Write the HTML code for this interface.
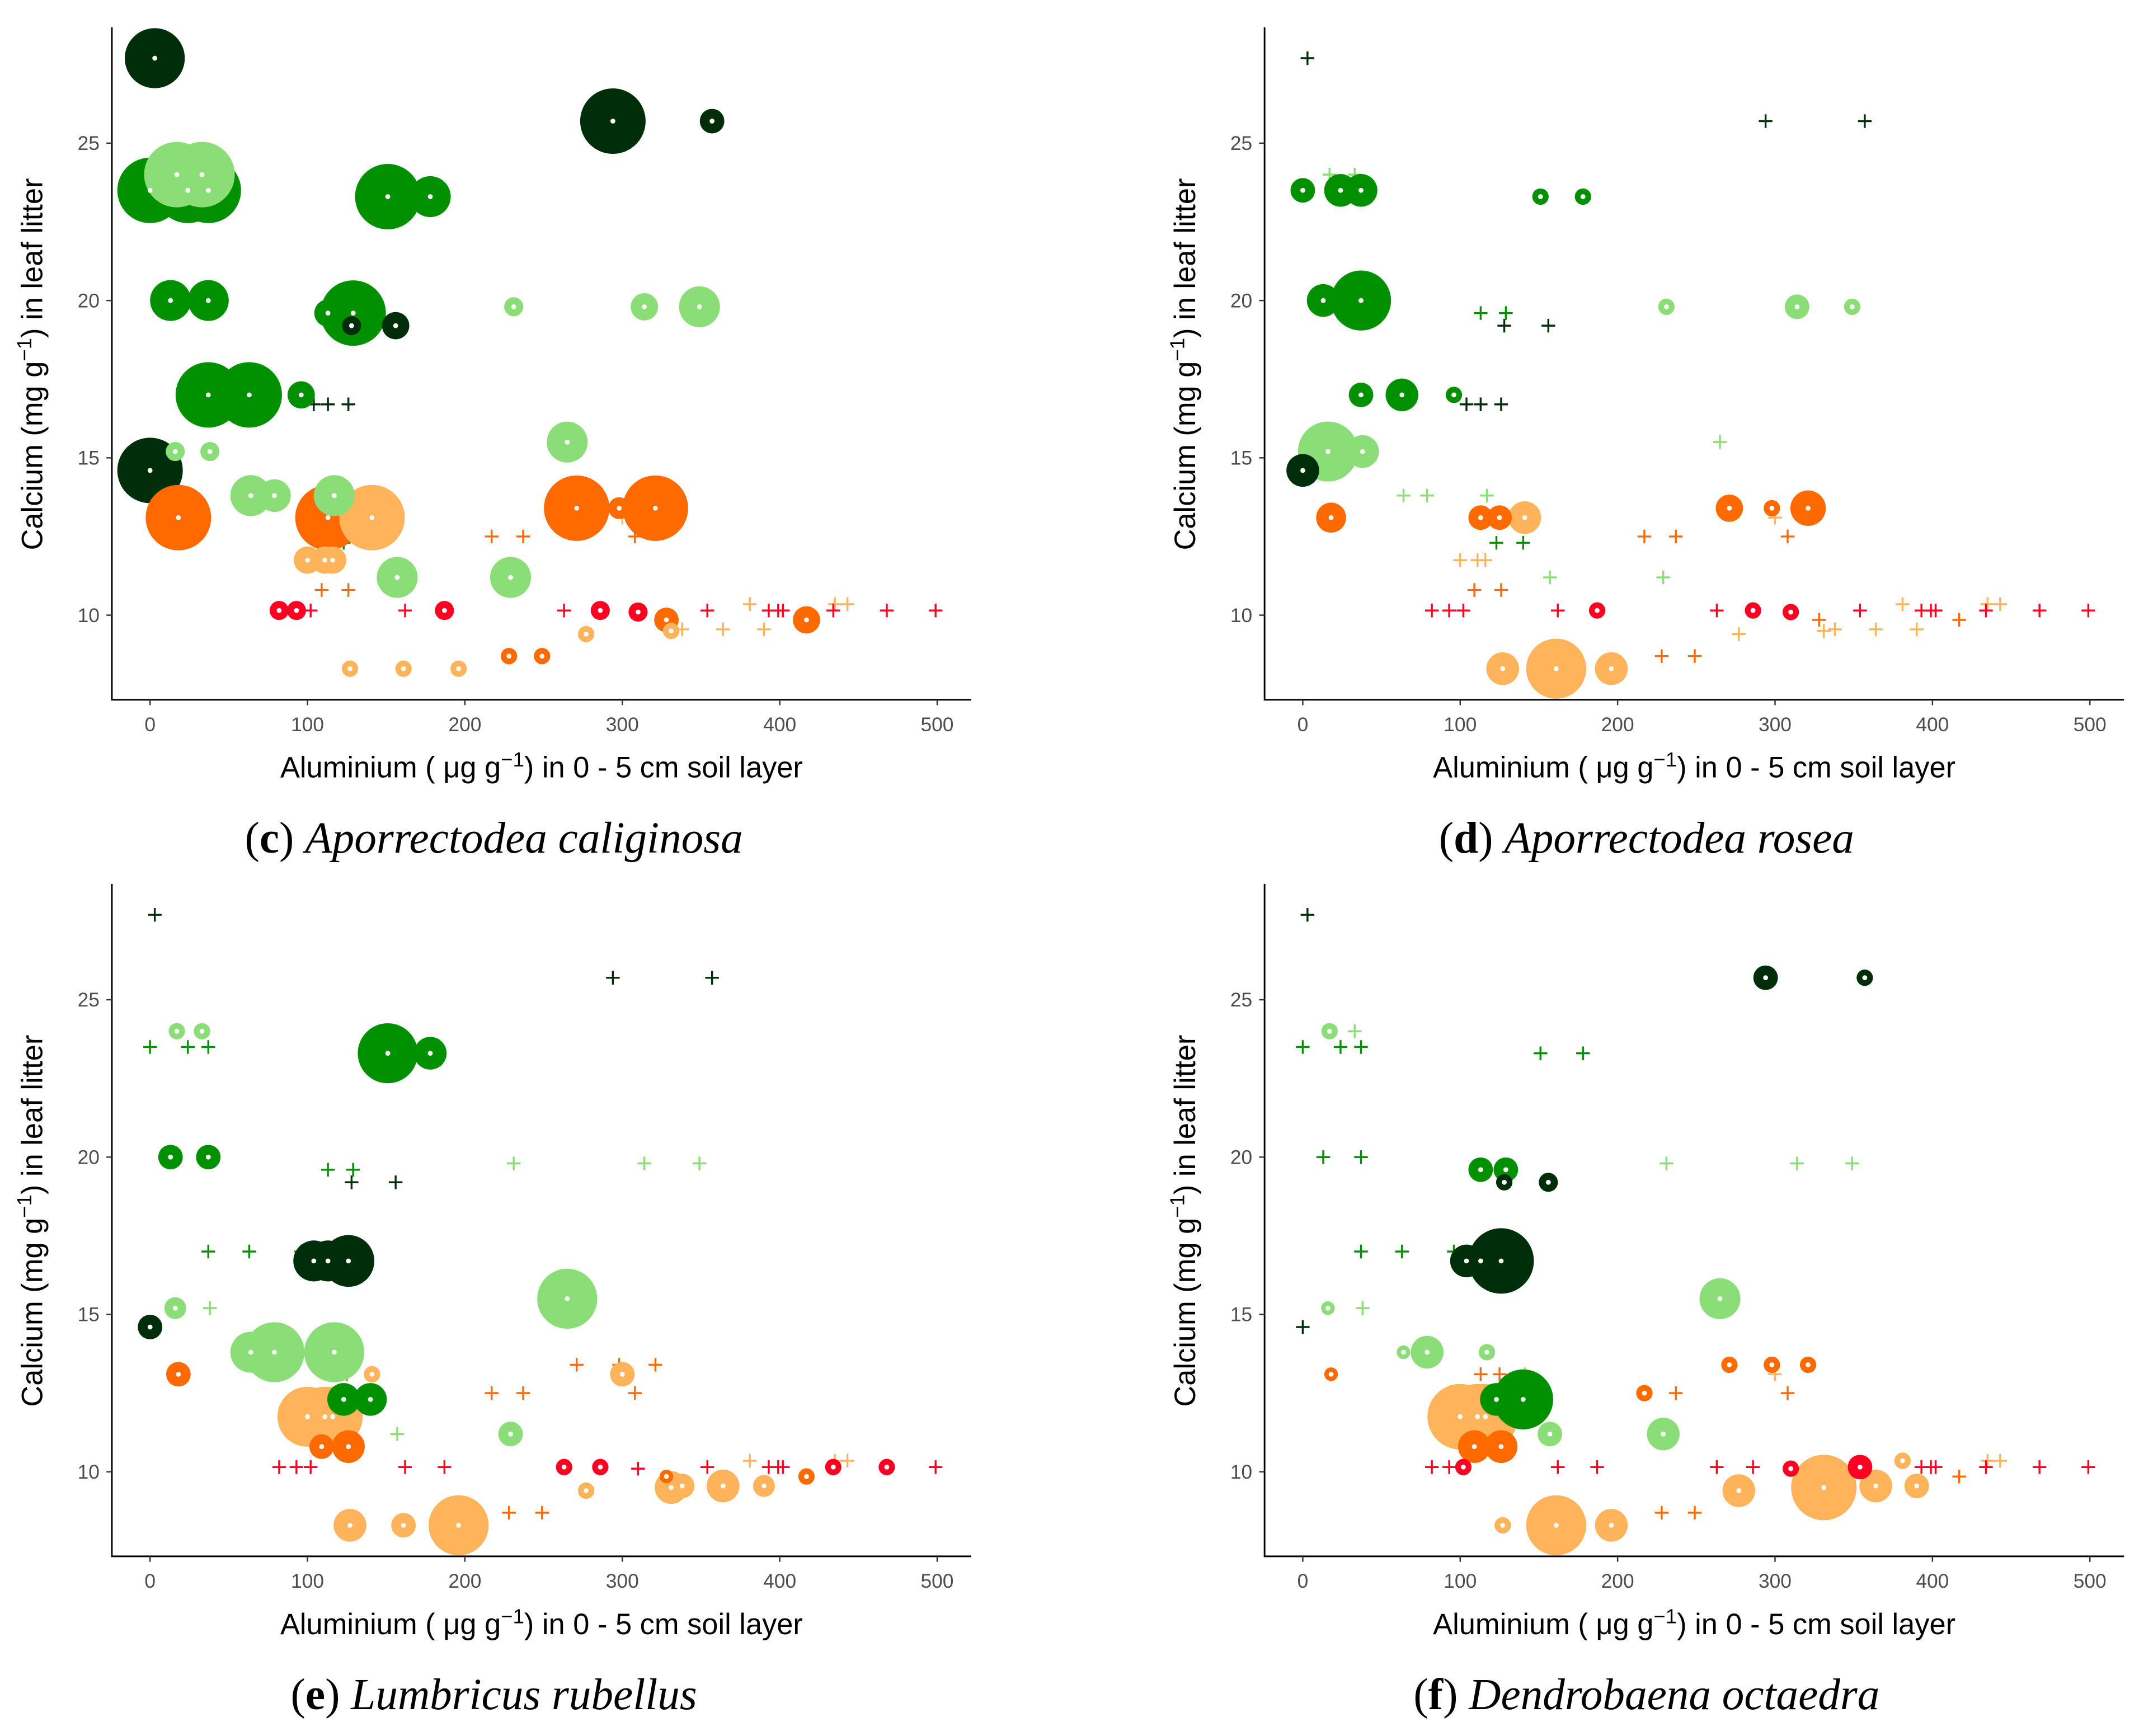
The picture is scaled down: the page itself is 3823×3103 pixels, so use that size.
<!DOCTYPE html>
<html><head><meta charset="utf-8"><style>
html,body{margin:0;padding:0;background:#fff}
svg{display:block}
</style></head><body>
<svg id="fig" xmlns="http://www.w3.org/2000/svg" width="3823" height="3103" viewBox="0 0 1568 1272.7"></svg>
<script>
// Site data (shared across panels): aluminium, calcium, colour group
const siteAl = [3,294,357,128,156,104,113,126,0, 0,24,37,151,178,13,37,113,129,37,63,96,140,123, 17,33,231,314,349,16,38,265,64,79,117,157,229, 18,113,125,271,298,321,217,237,308,109,126,328,417,228,249, 141,100,111,116,127,161,196,277,331,338,364,390,381,435,443,300, 82,93,102,162,187,263,286,310,354,393,399,402,434,468,499];
const siteCa = [27.7,25.7,25.7,19.2,19.2,16.7,16.7,16.7,14.6, 23.5,23.5,23.5,23.3,23.3,20,20,19.6,19.6,17,17,17,12.3,12.3, 24,24,19.8,19.8,19.8,15.2,15.2,15.5,13.8,13.8,13.8,11.2,11.2, 13.1,13.1,13.1,13.4,13.4,13.4,12.5,12.5,12.5,10.8,10.8,9.85,9.85,8.7,8.7, 13.1,11.75,11.75,11.75,8.3,8.3,8.3,9.4,9.5,9.55,9.55,9.55,10.35,10.35,10.35,13.1, 10.15,10.15,10.15,10.15,10.15,10.15,10.15,10.1,10.15,10.15,10.15,10.15,10.15,10.15,10.15];
const siteGroup = [0,0,0,0,0,0,0,0,0, 1,1,1,1,1,1,1,1,1,1,1,1,1,1, 2,2,2,2,2,2,2,2,2,2,2,2,2, 3,3,3,3,3,3,3,3,3,3,3,3,3,3,3, 4,4,4,4,4,4,4,4,4,4,4,4,4,4,4,4, 5,5,5,5,5,5,5,5,5,5,5,5,5,5,5];
const groupColors = ["#002e0b","#009000","#8bdd77","#ff6a00","#ffb35a","#ff0022"];
// Abundance (marker radius; 0 = absent -> cross) per species panel
const sizeC = [22,24,9,7,10,0,0,0,24, 24,24,24,24,15,15,15,10,24,24,24,10,0,0, 24,24,7,10,15,7,7,15,15,12,15,15,15, 24,24,0,24,8,24,0,0,0,0,0,9,10,6,6, 24,10,10,10,6,6,6,6,6,0,0,0,0,0,0,0, 7,7,0,0,7,0,7,7,0,0,0,0,0,0,0];
const sizeD = [0,0,0,0,0,0,0,0,12, 9,12,12,6,6,12,22,0,0,9,12,6,0,0, 0,0,6,9,6,22,12,0,0,0,0,0,0, 11,9,9,10,6,13,0,0,0,0,0,0,0,0,0, 12,0,0,0,12,22,12,0,0,0,0,0,0,0,0,0, 0,0,0,0,6,0,6,6,0,0,0,0,0,0,0];
const sizeE = [0,0,0,0,0,15,15,19,9, 0,0,0,22,12,9,9,0,0,0,0,0,12,12, 6,6,0,0,0,8,0,22,15,22,22,0,9, 9,0,0,0,0,0,0,0,0,9,12,5,6,0,0, 6,22,22,22,12,9,22,6,12,9,12,8,0,0,0,9, 0,0,0,0,0,6,6,0,0,0,0,0,6,6,0];
const sizeF = [0,9,6,6,7,12,12,24,0, 0,0,0,0,0,0,0,9,9,0,0,0,22,12, 6,0,0,0,0,5,0,15,5,12,6,9,12, 5,0,0,6,6,6,6,0,0,12,12,0,0,0,0, 0,24,24,24,6,22,12,12,24,0,12,9,6,0,0,0, 0,0,6,0,0,0,0,6,9,0,0,0,0,0,0];
const xTicks = [0,100,200,300,400,500];
const yTicks = [10,15,20,25];
const panels = [
  {name:"c", species:"Aporrectodea caliginosa", sizes:sizeC, dx:0, dy:0},
  {name:"d", species:"Aporrectodea rosea", sizes:sizeD, dx:845, dy:0},
  {name:"e", species:"Lumbricus rubellus", sizes:sizeE, dx:0, dy:628},
  {name:"f", species:"Dendrobaena octaedra", sizes:sizeF, dx:845, dy:628}
];
const NS="http://www.w3.org/2000/svg";
const svg=document.getElementById('fig');
function mk(tag,attrs,parent){const e=document.createElementNS(NS,tag);for(const k in attrs)e.setAttribute(k,attrs[k]);(parent||svg).appendChild(e);return e;}
panels.forEach(p=>{
  const g=mk('g',{});
  
  
  const X=v=>p.dx+110+v*1.154;
  const Y=v=>p.dy+451-(v-10)*23.07;
  const ax=mk('path',{d:`M${p.dx+82} ${p.dy+20}V${p.dy+513}H${p.dx+712}`,stroke:'#000',fill:'none','stroke-width':1.2},g);
  
  
  xTicks.forEach(t=>{
    mk('line',{x1:X(t),x2:X(t),y1:p.dy+513,y2:p.dy+517,stroke:'#333','stroke-width':1},g);
    const tx=mk('text',{x:X(t),y:p.dy+536,'text-anchor':'middle','font-size':14.5,fill:'#4d4d4d','font-family':'Liberation Sans, sans-serif'},g);
    tx.textContent=t;
    
    
  });
  yTicks.forEach(t=>{
    mk('line',{x1:p.dx+78,x2:p.dx+82,y1:Y(t),y2:Y(t),stroke:'#333','stroke-width':1},g);
    const tx=mk('text',{x:p.dx+73,y:Y(t)+5,'text-anchor':'end','font-size':14.5,fill:'#4d4d4d','font-family':'Liberation Sans, sans-serif'},g);
    tx.textContent=t;
    
    
  });
  const xt=mk('text',{x:p.dx+397,y:p.dy+570,'text-anchor':'middle','font-size':21.5,fill:'#000','font-family':'Liberation Sans, sans-serif'},g);
  xt.innerHTML='Aluminium ( μg g<tspan dy="-8" font-size="15">−1</tspan><tspan dy="8">) in 0 - 5 cm soil layer</tspan>';
  
  
  const yt=mk('text',{transform:`translate(${p.dx+31},${p.dy+267}) rotate(-90)`,'text-anchor':'middle','font-size':21.5,fill:'#000','font-family':'Liberation Sans, sans-serif'},g);
  yt.innerHTML='Calcium (mg g<tspan dy="-8" font-size="15">−1</tspan><tspan dy="8">) in leaf litter</tspan>';
  
  
  const cap=mk('text',{x:p.dx+362,y:p.dy+625,'text-anchor':'middle','font-size':32.5,fill:'#000','font-family':'Liberation Serif, serif'},g);
  cap.innerHTML=`(<tspan font-weight="bold">${p.name}</tspan>) <tspan font-style="italic">${p.species}</tspan>`;
  
  
  const idx=siteAl.map((_,i)=>i);
  idx.filter(i=>p.sizes[i]===0).forEach(i=>{
    const cx=X(siteAl[i]),cy=Y(siteCa[i]),c=groupColors[siteGroup[i]];
    const cr=mk('path',{d:`M${cx-5} ${cy}H${cx+5}M${cx} ${cy-5}V${cy+5}`,stroke:c,'stroke-width':1.4},g);
    
    
  });
  idx.filter(i=>p.sizes[i]>0).sort((a,b)=>p.sizes[b]-p.sizes[a]).forEach(i=>{
    const cx=X(siteAl[i]),cy=Y(siteCa[i]),c=groupColors[siteGroup[i]];
    const ci=mk('circle',{cx:cx,cy:cy,r:p.sizes[i],fill:c},g);
    
    
  });
  idx.filter(i=>p.sizes[i]>0).forEach(i=>{
    const d=mk('circle',{cx:X(siteAl[i]),cy:Y(siteCa[i]),r:1.8,fill:'#fff'},g);
    
    
  });
});
</script>
</body></html>
